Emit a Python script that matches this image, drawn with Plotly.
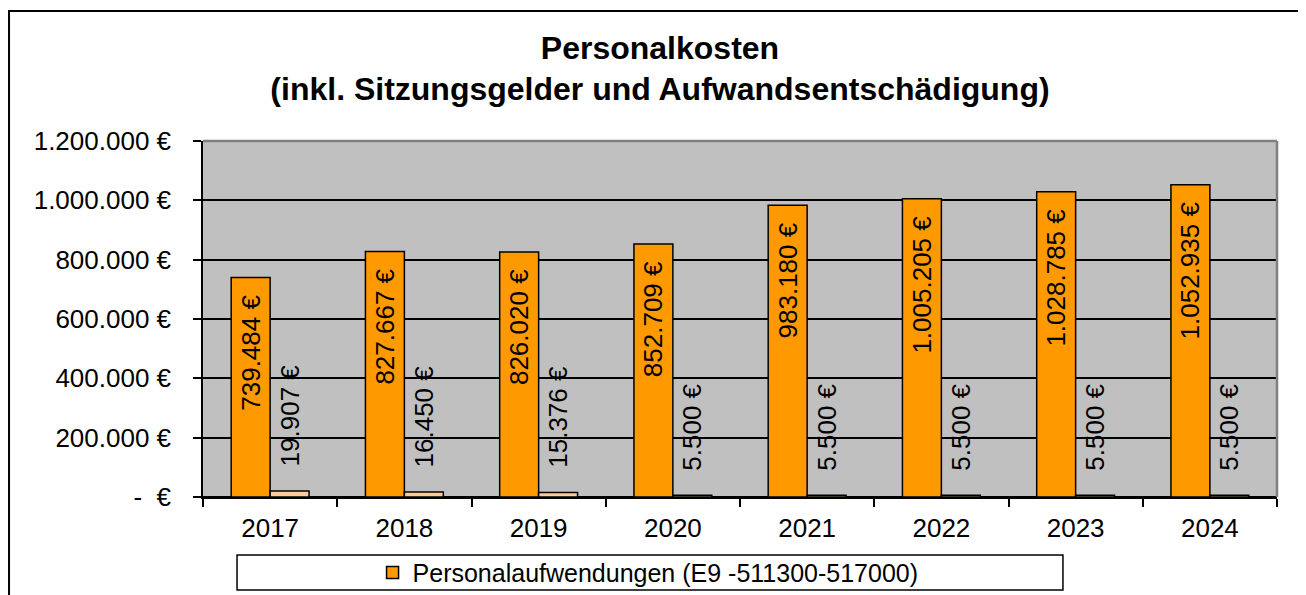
import plotly.graph_objects as go

# ---------------- data ----------------
years = ["2017", "2018", "2019", "2020", "2021", "2022", "2023", "2024"]
personal = [739484, 827667, 826020, 852709, 983180, 1005205, 1028785, 1052935]
sitzungsgelder = [19907, 16450, 15376, 5500, 5500, 5500, 5500, 5500]

y_tickvals = [0, 200000, 400000, 600000, 800000, 1000000, 1200000]
y_ticktext = ["-  €", "200.000 €", "400.000 €", "600.000 €", "800.000 €",
              "1.000.000 €", "1.200.000 €"]


def eur(v):
    return f"{v:,}".replace(",", ".") + " €"


NB = "\u00a0"
FONT = "Liberation Sans, Arial, sans-serif"

fig = go.Figure()
fig.add_trace(
    go.Bar(x=years, y=personal, name="Personalaufwendungen (E9 -511300-517000)",
           marker=dict(color="#FF9900", line=dict(color="black", width=1.5)),
           text=[eur(v) + NB * 2 for v in personal],
           textposition="inside", insidetextanchor="end", textangle=-90,
           textfont=dict(color="black", size=26, family=FONT),
           constraintext="none", cliponaxis=False))
fig.add_trace(
    go.Bar(x=years, y=sitzungsgelder, name="Sitzungsgelder und Aufwandsentschädigung",
           marker=dict(color="#FFCC99", line=dict(color="black", width=1.5)),
           text=[NB * 3 + eur(v) for v in sitzungsgelder],
           textposition="outside", textangle=-90,
           textfont=dict(color="black", size=26, family=FONT),
           constraintext="none", cliponaxis=False, showlegend=False))

# page body has an 8px margin, so the figure is 8px smaller than the window
fig.update_layout(
    width=1298, height=587,
    margin=dict(l=195, r=29, t=133, b=98, autoexpand=False),
    paper_bgcolor="white", plot_bgcolor="#C0C0C0",
    font=dict(family=FONT, size=26, color="black"),
    barmode="group", bargap=0.42, bargroupgap=0,
    title=dict(text="<b>Personalkosten<br>(inkl. Sitzungsgelder und Aufwandsentschädigung)</b>",
               x=0.5023, xanchor="center", y=0.9135, yanchor="top",
               font=dict(size=32, family=FONT, color="black")),
    legend=dict(orientation="h", x=0.4144, xanchor="center", y=-0.213, yanchor="middle",
                bgcolor="rgba(0,0,0,0)", font=dict(size=25, family=FONT)),
    showlegend=True,
)

fig.update_yaxes(range=[0, 1200000], tickvals=y_tickvals, ticktext=y_ticktext,
                 showgrid=True, gridcolor="black", gridwidth=1.5,
                 zeroline=True, zerolinecolor="black", zerolinewidth=1.5,
                 showline=True, linecolor="black", linewidth=1.5,
                 ticks="outside", ticklen=8, tickwidth=1.5, tickcolor="black",
                 ticklabelstandoff=17)
fig.update_xaxes(showline=True, linecolor="black", linewidth=1.5,
                 ticks="outside", tickson="boundaries", ticklen=8, tickwidth=1.5,
                 tickcolor="black", ticklabelstandoff=7)

# plot area border (grey), legend box and outer frame
fig.add_shape(type="line", xref="paper", yref="paper", x0=0, x1=1, y0=1, y1=1,
              line=dict(color="#808080", width=2.5))
fig.add_shape(type="line", xref="paper", yref="paper", x0=1, x1=1, y0=0, y1=1,
              line=dict(color="#808080", width=2.5))
fig.add_shape(type="rect", xref="paper", yref="paper",
              x0=0.0317, x1=0.8007, y0=-0.261, y1=-0.163,
              line=dict(color="black", width=1.5))
fig.add_shape(type="rect", xref="paper", yref="paper",
              x0=-0.1806, x1=1.0233, y0=-0.5, y1=1.365,
              line=dict(color="black", width=2))

fig.write_html("out.html")
